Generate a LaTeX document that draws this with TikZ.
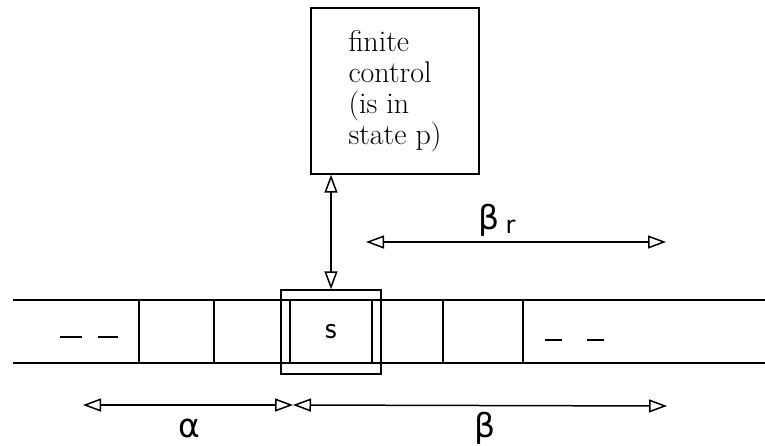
\documentclass[tikz,border=0pt]{standalone}
\usepackage{fontspec}
\usepackage{tikz}
\usetikzlibrary{arrows.meta,positioning}
\newfontfamily\greekfont{DejaVu Sans}

\tikzset{
    tape/.style={line width=1.4pt},
    dimarrow/.style={line width=1.5pt, {Triangle[open, length=18pt, width=13pt]}-{Triangle[open, length=18pt, width=13pt]}},
    lbl/.style={font=\greekfont\fontsize{33}{33}\selectfont, inner sep=0pt, anchor=base},
}

\begin{document}
\begin{tikzpicture}[x=1pt, y=-1pt]
    \useasboundingbox (0,0) rectangle (765,446);

    % finite control
    \node [draw, line width=1.4pt, minimum width=168pt, minimum height=166pt, align=left,
           font=\fontsize{30}{31}\selectfont] (control) at (395,91) {finite\\control\\(is in\\state p)};

    % tape
    \coordinate (tl) at (13,300);
    \coordinate (tr) at (765,300);
    \coordinate (bl) at (13,363);
    \coordinate (br) at (765,363);
    \draw [tape] (tl) -- (tr);
    \draw [tape] (bl) -- (br);
    \foreach \x in {139,214,443,523}
        \draw [line width=1.2pt] (\x,300) -- (\x,363);

    % scanned cell and head
    \node [draw, line width=1.2pt, minimum width=82pt, minimum height=63pt, inner sep=0pt,
           font=\sffamily\fontsize{32}{32}\selectfont] (cell) at (331,331.5) {s};
    \node [draw, line width=1.4pt, minimum width=100pt, minimum height=84pt] (head) at (331,332) {};

    % dots on the tape
    \foreach \a/\b/\y in {60/82/337, 98/118/337, 545/562/340, 587/604/340}
        \draw [line width=1.8pt] (\a,\y) -- (\b,\y);

    % head <-> control
    \coordinate (cbot) at (head.north |- control.south);
    \draw [dimarrow] (cbot) -- (head.north);

    % beta_r
    \coordinate (brl) at (366,242);
    \coordinate (brr) at (666,242);
    \draw [dimarrow] (brl) -- (brr);
    \node [lbl] (betar) at (497,230) {β\hspace{6pt}\raisebox{-3pt}{\fontsize{24}{24}\selectfont r}};

    % alpha, beta
    \coordinate (al) at (83,405);
    \coordinate (am) at (293,405);
    \coordinate (bb) at (667,406);
    \draw [dimarrow] (al) -- (am);
    \draw [dimarrow] (am) -- (bb);
    \node [lbl] (alpha) at (189,437) {α};
    \node [lbl] (beta) at (485,437) {β};

\end{tikzpicture}
\end{document}
